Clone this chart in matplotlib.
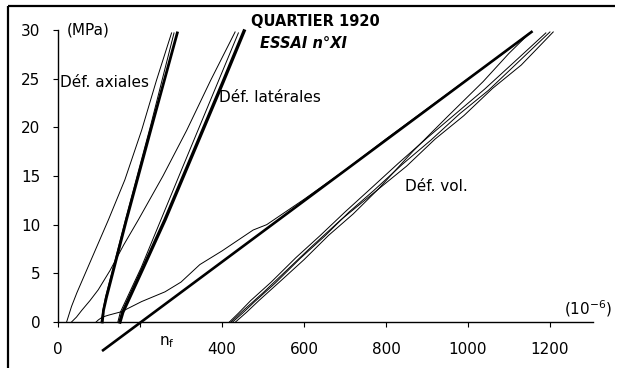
import matplotlib
matplotlib.use("Agg")
import matplotlib.pyplot as plt
from matplotlib.lines import Line2D

# axial strain gauges (10^-6, MPa)
axial_thin_x = [21, 33, 46, 85, 123, 163, 204, 240, 277]
axial_thin_y = [0, 1.6, 3.0, 6.8, 10.5, 14.6, 19.7, 24.8, 29.7]
axial_thin2_x = [105, 110, 116, 165, 226, 283]
axial_thin2_y = [0, 1.3, 2.6, 10.6, 20.2, 29.7]
axial_thick_x = [108, 111, 118, 167, 228, 291]
axial_thick_y = [0, 1.2, 2.5, 10.5, 20.0, 29.7]

# lateral strain gauges
lat_thin_x = [33, 45, 58, 78, 98, 127, 160, 196, 256, 314, 372, 432]
lat_thin_y = [0, 0.5, 1.2, 2.2, 3.3, 5.3, 7.9, 10.5, 15.0, 19.7, 24.8, 29.8]
lat_thin2_x = [146, 152, 203, 300, 370, 440]
lat_thin2_y = [0, 1.0, 5.6, 15.5, 22.6, 29.7]
lat_thick_x = [151, 158, 207, 261, 305, 350, 402, 454]
lat_thick_y = [0, 1.0, 5.5, 10.5, 14.9, 19.4, 24.6, 29.9]

# curve joining the n_f line
join_x = [93, 98, 108, 123, 155, 204, 261, 300, 346, 400, 476, 509, 600, 700, 800, 900, 1000, 1080, 1150]
join_y = [0, 0.2, 0.5, 0.7, 1.06, 2.1, 3.1, 4.1, 5.9, 7.3, 9.45, 10.0, 12.6, 15.6, 18.8, 21.9, 25.0, 27.4, 29.7]

# n_f line
nf_x = [110, 1155]
nf_y = [-2.9, 29.8]

# volumetric strain
vol1_x = [418, 440, 470, 520, 580, 640, 700, 760, 830, 900, 970, 1040, 1110, 1190]
vol1_y = [0, 0.9, 2.2, 4.1, 6.6, 8.9, 11.3, 13.6, 16.3, 18.9, 21.4, 23.9, 26.6, 29.7]
vol2_x = [426, 450, 480, 530, 590, 650, 710, 770, 840, 910, 980, 1050, 1120, 1200]
vol2_y = [0, 0.9, 2.1, 4.0, 6.5, 8.8, 11.3, 13.5, 16.2, 18.7, 21.4, 23.8, 26.6, 29.8]
vol3_x = [433, 460, 490, 540, 600, 660, 720, 780, 850, 920, 990, 1060, 1130, 1208]
vol3_y = [0, 1.0, 2.2, 4.1, 6.4, 8.9, 11.1, 13.6, 16.0, 18.8, 21.2, 24.0, 26.4, 29.8]
vol4_x = [422, 455, 500, 560, 620, 690, 780, 867, 950, 1037, 1100, 1146]
vol4_y = [0, 1.3, 3.0, 5.4, 7.8, 10.5, 13.6, 17.6, 21.1, 24.7, 27.6, 29.5]

x_ticks = [0, 200, 400, 600, 800, 1000, 1200]
x_labels = ["0", "", "400", "600", "800", "1000", "1200"]
y_ticks = [0, 5, 10, 15, 20, 25, 30]

plt.rcParams["font.family"] = ["DejaVu Sans"]

fig = plt.figure(figsize=(6.18, 3.68), dpi=100)
ax = fig.add_axes([58 / 618, 46 / 368, 535 / 618, 292 / 368])
ax.set_xlim(0, 1305)
ax.set_ylim(0, 30)

thin = dict(color="black", lw=0.7, clip_on=False)
ax.plot(axial_thin_x, axial_thin_y, **thin)
ax.plot(axial_thin2_x, axial_thin2_y, **thin)
ax.plot(axial_thick_x, axial_thick_y, color="black", lw=2.0, clip_on=False)
ax.plot(lat_thin_x, lat_thin_y, **thin)
ax.plot(lat_thin2_x, lat_thin2_y, **thin)
ax.plot(lat_thick_x, lat_thick_y, color="black", lw=2.4, clip_on=False)
ax.plot(join_x, join_y, **thin)
ax.plot(nf_x, nf_y, color="black", lw=1.9, clip_on=False)
for vx, vy in [(vol1_x, vol1_y), (vol2_x, vol2_y), (vol3_x, vol3_y), (vol4_x, vol4_y)]:
    ax.plot(vx, vy, **thin)

ax.spines["top"].set_visible(False)
ax.spines["right"].set_visible(False)
ax.spines["left"].set_linewidth(1.0)
ax.spines["bottom"].set_linewidth(1.0)
ax.set_xticks(x_ticks)
ax.set_xticklabels(x_labels)
ax.set_yticks(y_ticks)
ax.tick_params(axis="x", direction="out", length=3.6, width=0.8, pad=11, labelsize=11)
ax.tick_params(axis="y", direction="out", length=3.6, width=0.8, pad=9, labelsize=11)

ax.text(22, 30, "(MPa)", fontsize=11, ha="left", va="center")
ax.text(627, 30.9, "QUARTIER 1920", fontsize=10.5, fontweight="bold", ha="center", va="center", clip_on=False)
ax.text(598, 28.6, "ESSAI n°XI", fontsize=10.5, fontweight="bold", fontstyle="italic", ha="center", va="center")
ax.text(5, 24.6, "Déf. axiales", fontsize=11, ha="left", va="center")
ax.text(393, 23.1, "Déf. latérales", fontsize=11, ha="left", va="center")
ax.text(846, 13.9, "Déf. vol.", fontsize=11, ha="left", va="center")
ax.text(1234, 1.4, "(10$^{-6}$)", fontsize=11, ha="left", va="center", clip_on=False)
ax.text(266, -2.1, "n$_\\mathregular{f}$", fontsize=11, ha="center", va="center", clip_on=False)

# frame around the picture (top and left edges)
fig.add_artist(Line2D([8 / 618, 615 / 618], [1 - 6 / 368, 1 - 6 / 368], color="black", lw=1.6, solid_capstyle="butt"))
fig.add_artist(Line2D([8 / 618, 8 / 618], [0, 1 - 6 / 368], color="black", lw=1.6, solid_capstyle="butt"))

fig.savefig("out.png", dpi=100, facecolor="white")
